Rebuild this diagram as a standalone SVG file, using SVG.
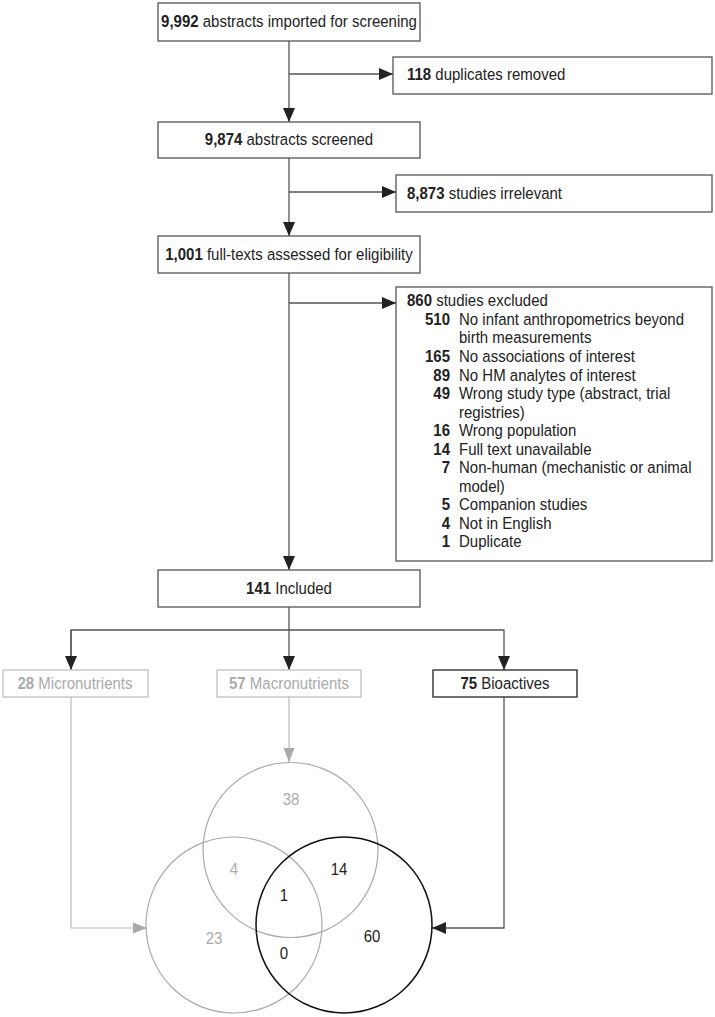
<svg xmlns="http://www.w3.org/2000/svg" width="715" height="1017" viewBox="0 0 715 1017">
<style>
text{font-family:"Liberation Sans",Arial,sans-serif;font-size:15px;fill:#222}
.b{font-weight:bold}
.box{fill:#fff;stroke:#555;stroke-width:1.3}
.gbox{fill:#fff;stroke:#bbb;stroke-width:1.2}
.kbox{fill:#fff;stroke:#333;stroke-width:1.4}
.c{text-anchor:middle}
.g{fill:#aaa}
.ln{fill:none;stroke:#555;stroke-width:1.3}
.gl{fill:none;stroke:#bbb;stroke-width:1.2}
.v{font-size:15px;text-anchor:middle}
</style>
<defs>
<marker id="ah" markerUnits="userSpaceOnUse" markerWidth="14" markerHeight="12" refX="14" refY="6" orient="auto"><path d="M0,0 L14,6 L0,12 z" fill="#222"/></marker>
<marker id="ahg" markerUnits="userSpaceOnUse" markerWidth="14" markerHeight="12" refX="14" refY="6" orient="auto"><path d="M0,0.5 L14,6 L0,11.5 z" fill="#aaa"/></marker>
</defs>

<g id="connectors">
<path class="ln" d="M289,41 V122" marker-end="url(#ah)"/>
<path class="ln" d="M289,74 H393" marker-end="url(#ah)"/>
<path class="ln" d="M289,158 V236" marker-end="url(#ah)"/>
<path class="ln" d="M289,192 H396" marker-end="url(#ah)"/>
<path class="ln" d="M289,273 V570" marker-end="url(#ah)"/>
<path class="ln" d="M289,303 H396" marker-end="url(#ah)"/>
<path class="ln" d="M289,607 V670" marker-end="url(#ah)"/>
<path class="ln" d="M71,670 V630 H504 V670" marker-end="url(#ah)"/>
<path class="ln" d="M71,630 V670" marker-end="url(#ah)"/>
<path class="gl" d="M71,697 V928 H147" marker-end="url(#ahg)"/>
<path class="gl" d="M289,697 V762" marker-end="url(#ahg)"/>
<path class="ln" d="M504,697 V928 H432" marker-end="url(#ah)"/>
</g>

<g id="n1"><rect class="box" x="158" y="3" width="262" height="38"/><text class="c" x="289" y="23.478" transform="scale(1,1.15)"><tspan class="b">9,992</tspan> abstracts imported for screening</text></g>
<g id="n2"><rect class="box" x="393" y="57" width="319" height="37"/><text x="407" y="69.565" transform="scale(1,1.15)"><tspan class="b">118</tspan> duplicates removed</text></g>
<g id="n3"><rect class="box" x="158" y="122" width="262" height="36"/><text class="c" x="289" y="126.087" transform="scale(1,1.15)"><tspan class="b">9,874</tspan> abstracts screened</text></g>
<g id="n4"><rect class="box" x="396" y="175" width="316" height="37"/><text x="407" y="173.043" transform="scale(1,1.15)"><tspan class="b">8,873</tspan> studies irrelevant</text></g>
<g id="n5"><rect class="box" x="158" y="236" width="262" height="37"/><text class="c" x="289" y="226.087" transform="scale(1,1.15)"><tspan class="b">1,001</tspan> full-texts assessed for eligibility</text></g>
<g id="n6"><rect class="box" x="396" y="287" width="316" height="274"/>
<g transform="scale(1,1.15)">
<text x="407" y="266.087"><tspan class="b">860</tspan> studies excluded</text>
<g class="b" text-anchor="end">
<text x="450" y="282.609">510</text>
<text x="450" y="314.783">165</text>
<text x="450" y="331.304">89</text>
<text x="450" y="346.957">49</text>
<text x="450" y="379.130">16</text>
<text x="450" y="395.652">14</text>
<text x="450" y="411.304">7</text>
<text x="450" y="443.478">5</text>
<text x="450" y="460">4</text>
<text x="450" y="475.652">1</text>
</g>
<text x="459" y="282.609">No infant anthropometrics beyond</text>
<text x="459" y="298.261">birth measurements</text>
<text x="459" y="314.783">No associations of interest</text>
<text x="459" y="331.304">No HM analytes of interest</text>
<text x="459" y="346.957">Wrong study type (abstract, trial</text>
<text x="459" y="363.478">registries)</text>
<text x="459" y="379.130">Wrong population</text>
<text x="459" y="395.652">Full text unavailable</text>
<text x="459" y="411.304">Non-human (mechanistic or animal</text>
<text x="459" y="427.826">model)</text>
<text x="459" y="443.478">Companion studies</text>
<text x="459" y="460">Not in English</text>
<text x="459" y="475.652">Duplicate</text>
</g>
</g>
<g id="n7"><rect class="box" x="158" y="570" width="262" height="37"/><text class="c" x="289" y="516.522" transform="scale(1,1.15)"><tspan class="b">141</tspan> Included</text></g>
<g id="n8"><rect class="gbox" x="3" y="670" width="145" height="27"/><text class="c g" x="75" y="599.13" transform="scale(1,1.15)"><tspan class="b g">28</tspan> Micronutrients</text></g>
<g id="n9"><rect class="gbox" x="217" y="670" width="144" height="27"/><text class="c g" x="289" y="599.13" transform="scale(1,1.15)"><tspan class="b g">57</tspan> Macronutrients</text></g>
<g id="n10"><rect class="kbox" x="433" y="670" width="144" height="27"/><text class="c" x="505" y="599.13" transform="scale(1,1.15)"><tspan class="b">75</tspan> Bioactives</text></g>

<g id="venn">
<circle cx="290.5" cy="850" r="87.5" fill="none" stroke="#aaa" stroke-width="1.2"/>
<circle cx="234" cy="925" r="88" fill="none" stroke="#aaa" stroke-width="1.2"/>
<circle cx="344" cy="925" r="88" fill="none" stroke="#111" stroke-width="1.5"/>
<g transform="scale(1,1.15)">
<text class="v g" x="291" y="700">38</text>
<text class="v g" x="234" y="760.87">4</text>
<text class="v" x="339" y="760.87">14</text>
<text class="v" x="284" y="783.48">1</text>
<text class="v g" x="214" y="820.87">23</text>
<text class="v" x="284" y="833.91">0</text>
<text class="v" x="372" y="819.13">60</text>
</g>
</g>
</svg>
